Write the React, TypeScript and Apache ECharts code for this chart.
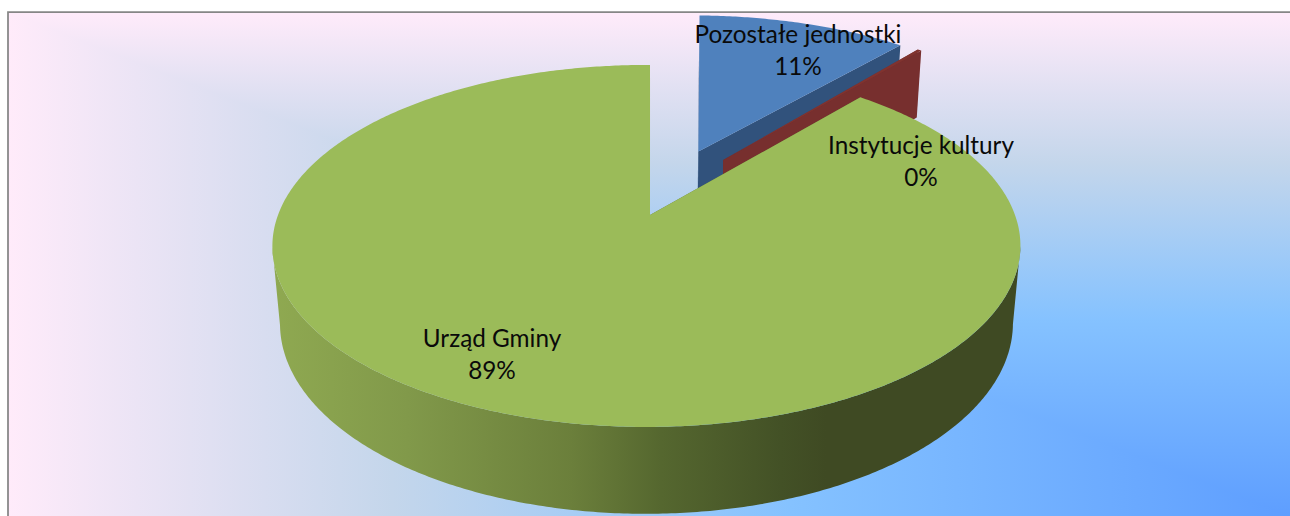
import React, { useEffect, useRef } from "react";
import * as echarts from "echarts";

// ---- data
const categories = ["Pozostałe jednostki", "Instytucje kultury", "Urząd Gminy"];
const shares = [11.0, 0.2, 88.8];
const topColors = ["#4F81BD", "#80332F", "#9BBB59"];
const wallColors = ["#31527C", "#772F2E", "#5F7335"];

// ---- layout
const W = 1290;
const H = 516;
const FRAME = { x: 8, y: 12, r: 1290, b: 516 };
const bgStops = [
  { offset: 0, color: "#FFEBFA" },
  { offset: 0.3, color: "#C4D6EB" },
  { offset: 0.61, color: "#85C2FF" },
  { offset: 1, color: "#5E9EFF" },
];
const wallStops = [
  { offset: 0, color: "#8FA951" },
  { offset: 0.18, color: "#81994A" },
  { offset: 0.4, color: "#6B7F3B" },
  { offset: 0.52, color: "#55672F" },
  { offset: 0.68, color: "#435126" },
  { offset: 0.74, color: "#3F4A23" },
  { offset: 1, color: "#3F4A23" },
];
const CAM = { cx: 650, cy: 215, a: 368.5, b: 175.7, k: 0.171, m: 0.02, h: 78 };
// per slice: apex offset on the disc (explosion), rim centre shift, angle correction, radius
const explode = [
  { x: 0.14, y: -0.385, shift: 0, rot: 1.5, r: 1.025 },
  { x: 0.21, y: -0.33, shift: 0, rot: 0, r: 1.03 },
  { x: 0, y: 0, shift: -0.0095, rot: 0.55, r: 1 },
];
const labelPos = [
  { x: 798, y: 33 },
  { x: 921, y: 144 },
  { x: 492, y: 337 },
];
const LINE = 32;
const FONT = '24.3px Lato, "Noto Sans", sans-serif';

function project(X: number, Y: number, Z: number): number[] {
  const w = 1 - CAM.k * Y + CAM.m * Z;
  return [CAM.cx + (CAM.a * X) / w, CAM.cy + (CAM.b * Y + CAM.h * Z) / w];
}

function sliceAngles() {
  const total = shares.reduce((s, v) => s + v, 0);
  let acc = 0;
  return shares.map((v) => {
    const start = (acc / total) * 2 * Math.PI;
    acc += v;
    return [start, (acc / total) * 2 * Math.PI];
  });
}

// rim of slice i at depth Z; with frontOnly, just the part that faces the viewer
function rimPoints(i: number, Z: number, frontOnly = false): number[][] {
  const [s, e] = sliceAngles()[i];
  const ex = explode[i];
  const rot = (ex.rot * Math.PI) / 180;
  const n = Math.max(2, Math.ceil((e - s) / 0.01));
  const pts: number[][] = [];
  for (let j = 0; j <= n; j++) {
    const t = s + rot + ((e - s) * j) / n;
    const Y = ex.y - ex.r * Math.cos(t);
    if (frontOnly && Y < CAM.k) continue;
    pts.push(project(ex.x + ex.shift + ex.r * Math.sin(t), Y, Z));
  }
  return pts;
}

function renderSlice(params: any) {
  const i = params.dataIndex;
  const ex = explode[i];
  const top = rimPoints(i, 0);
  const bottom = rimPoints(i, 1);
  const apexTop = project(ex.x, ex.y, 0);
  const apexBottom = project(ex.x, ex.y, 1);
  const solid = { fill: wallColors[i] };
  const children: any[] = [
    {
      type: "polygon",
      shape: { points: [apexTop, top[0], bottom[0], apexBottom] },
      style: solid,
    },
    {
      type: "polygon",
      shape: {
        points: [apexTop, top[top.length - 1], bottom[bottom.length - 1], apexBottom],
      },
      style: solid,
    },
  ];
  const frontTop = rimPoints(i, 0, true);
  const frontBottom = rimPoints(i, 1, true);
  if (frontTop.length > 1) {
    children.push({
      type: "polygon",
      shape: { points: [...frontTop, ...frontBottom.slice().reverse()] },
      style: { fill: new echarts.graphic.LinearGradient(273, 0, 1020, 0, wallStops, true) },
    });
  }
  children.push({
    type: "polygon",
    shape: { points: [apexTop, ...top] },
    style: { fill: topColors[i] },
  });
  return { type: "group", children };
}

function renderLabel(params: any, api: any) {
  const i = params.dataIndex;
  const value = api.value(0);
  const p = labelPos[i];
  return {
    type: "group",
    children: [
      {
        type: "text",
        style: {
          x: p.x,
          y: p.y,
          text: categories[i],
          font: FONT,
          fill: "#0A0A0A",
          textAlign: "center",
          textVerticalAlign: "middle",
        },
      },
      {
        type: "text",
        style: {
          x: p.x,
          y: p.y + LINE,
          text: `${Math.round(value)}%`,
          font: FONT,
          fill: "#0A0A0A",
          textAlign: "center",
          textVerticalAlign: "middle",
        },
      },
    ],
  };
}

export default function App() {
  const ref = useRef<HTMLDivElement>(null);
  useEffect(() => {
    const chart = echarts.init(ref.current!, undefined, { renderer: "svg" });
    const fw = FRAME.r - FRAME.x;
    const fh = FRAME.b - FRAME.y;
    chart.setOption({
      animation: false,
      backgroundColor: "#FFFFFF",
      graphic: {
        elements: [
          {
            type: "rect",
            z: -11,
            shape: { x: FRAME.x, y: FRAME.y, width: fw, height: fh },
            style: {
              fill: new echarts.graphic.LinearGradient(0, FRAME.y, 0, FRAME.b, bgStops, true),
            },
          },
          {
            type: "polygon",
            z: -10,
            shape: {
              points: [
                [FRAME.x, FRAME.y],
                [FRAME.r, FRAME.b],
                [FRAME.x, FRAME.b],
              ],
            },
            style: {
              fill: new echarts.graphic.LinearGradient(FRAME.x, 0, FRAME.x + fw, 0, bgStops, true),
            },
          },
          {
            type: "polyline",
            z: -9,
            shape: {
              points: [
                [FRAME.x, FRAME.b],
                [FRAME.x, FRAME.y],
                [FRAME.r, FRAME.y],
              ],
            },
            style: { stroke: "#868686", lineWidth: 1.75, fill: "none" },
          },
        ],
      },
      series: [
        {
          type: "custom",
          coordinateSystem: "none",
          silent: true,
          z: 2,
          renderItem: renderSlice,
          data: shares.map((v, i) => ({ name: categories[i], value: [v] })),
        },
        {
          type: "custom",
          coordinateSystem: "none",
          silent: true,
          z: 5,
          renderItem: renderLabel,
          data: shares.map((v, i) => ({ name: categories[i], value: [v] })),
        },
      ],
    });
    return () => chart.dispose();
  }, []);
  return (
    <div
      ref={ref}
      style={{ position: "fixed", left: 0, top: 0, width: W, height: H }}
    />
  );
}
